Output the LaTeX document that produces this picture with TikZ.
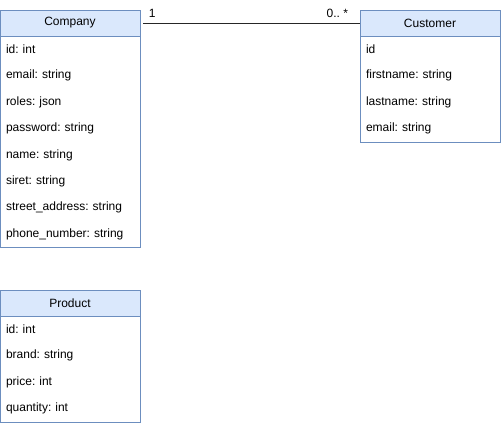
\documentclass[tikz,border=0pt]{standalone}
\usepackage{fontspec}
\setmainfont{Liberation Sans}
\frenchspacing
\usetikzlibrary{positioning}
\definecolor{headfill}{HTML}{DAE8FC}
\definecolor{headline}{HTML}{6C8EBF}
\begin{document}
\begin{tikzpicture}[
  x=1pt,
  y=-1pt,
  font=\fontsize{12}{14}\selectfont,
  header/.style={draw=headline, fill=headfill, minimum width=140pt, minimum height=26pt, inner sep=0pt},
  field/.style={text width=128pt, minimum height=26pt, inner sep=0pt, align=left},
  classbox/.style={draw=headline},
  assoc/.style={draw=black!85, line width=0.8pt}
]
\useasboundingbox (0,0) rectangle (501,424);

% Company
\node[header] (company) at (70,23) {Company};
\node[field, below=0pt of company] (cid) {id: int};
\node[field, below=0pt of cid] (cemail) {email: string};
\node[field, below=0pt of cemail] (croles) {roles: json};
\node[field, below=0pt of croles] (cpassword) {password: string};
\node[field, below=0pt of cpassword] (cname) {name: string};
\node[field, below=0pt of cname] (csiret) {siret: string};
\node[field, below=0pt of csiret] (cstreet) {street\_address: string};
\node[field, below=0pt of cstreet] (cphone) {phone\_number: string};
\draw[classbox] (company.south west) rectangle (cphone.south -| company.east);

% Customer
\node[header] (customer) at (430,23) {Customer};
\node[field, below=0pt of customer] (uid) {id};
\node[field, below=0pt of uid] (ufirst) {firstname: string};
\node[field, below=0pt of ufirst] (ulast) {lastname: string};
\node[field, below=0pt of ulast] (uemail) {email: string};
\draw[classbox] (customer.south west) rectangle (uemail.south -| customer.east);

% Product
\node[header] (product) at (70,303) {Product};
\node[field, below=0pt of product] (pid) {id: int};
\node[field, below=0pt of pid] (pbrand) {brand: string};
\node[field, below=0pt of pbrand] (pprice) {price: int};
\node[field, below=0pt of pprice] (pquantity) {quantity: int};
\draw[classbox] (product.south west) rectangle (pquantity.south -| product.east);

% association
\draw[assoc] ([xshift=3pt]company.east) -- (customer.west)
  node[pos=0, above right=2pt and 2pt] {1}
  node[pos=1, above left=2pt and 8pt] {0.. *};
\end{tikzpicture}
\end{document}
